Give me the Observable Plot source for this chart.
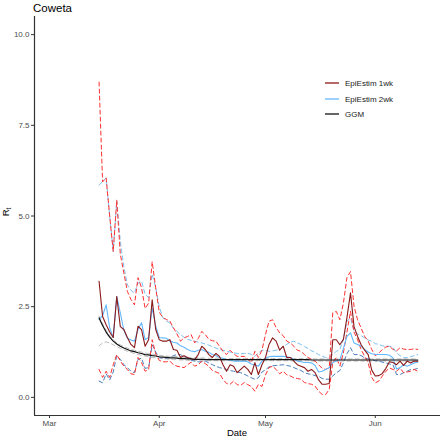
<!DOCTYPE html>
<html><head><meta charset="utf-8">
<script src="https://cdn.jsdelivr.net/npm/d3@7"></script>
<script src="https://cdn.jsdelivr.net/npm/@observablehq/plot@0.6"></script>
<style>
body{margin:0;background:#fff;}
#chart{position:relative;width:440px;height:438px;}
#chart svg g[aria-label$="tick label"]{fill:#4d4d4d;}
</style></head><body><div id="chart"></div>
<script>
const titleText = "Coweta";
const xLabel = "Date";
const startDate = "2020-03-15";
const xTickDates = ["2020-03-01","2020-04-01","2020-05-01","2020-06-01"];
const xTickLabels = ["Mar","Apr","May","Jun"];
const yTicks = [0, 2.5, 5, 7.5, 10];
const yTickLabels = ["0.0","2.5","5.0","7.5","10.0"];
const legendLabels = ["EpiEstim 1wk","EpiEstim 2wk","GGM"];

// EpiEstim 1-week window: mean, lower, upper
const r1Mean = [3.20,2.23,2.00,1.80,1.65,2.78,1.95,1.87,1.65,1.46,
  1.37,1.96,1.87,1.41,1.59,2.69,1.87,1.59,1.55,1.55,
  1.59,1.32,1.30,1.10,1.15,1.10,1.06,1.04,1.18,1.41,
  1.32,1.18,1.10,1.21,1.13,0.90,0.72,0.90,0.86,0.68,
  0.77,0.86,0.77,0.63,0.96,0.63,0.90,1.10,1.46,1.64,
  1.55,1.30,1.41,1.10,1.10,1.00,0.90,0.86,0.82,0.72,
  0.77,0.68,0.48,0.36,0.36,0.38,1.59,1.59,1.45,1.60,
  2.20,2.88,1.95,1.68,1.45,1.30,1.18,0.75,0.59,0.60,
  0.66,0.80,0.98,0.96,0.90,1.00,0.88,1.00,0.95,1.00,
  1.00];
const r1Low = [0.77,0.55,0.72,0.55,0.90,1.18,1.00,0.86,0.77,0.65,
  0.63,1.10,0.96,0.72,0.77,1.59,1.20,1.02,0.98,0.98,
  1.00,0.90,0.86,0.84,0.82,0.90,0.97,0.86,0.90,1.00,
  0.93,0.86,0.74,0.70,0.66,0.50,0.38,0.36,0.45,0.35,
  0.33,0.41,0.35,0.30,0.17,0.36,0.30,0.62,0.82,0.86,
  0.77,0.65,0.72,0.62,0.59,0.54,0.52,0.50,0.41,0.38,
  0.36,0.31,0.17,0.08,0.08,0.22,0.96,1.10,0.86,1.23,
  1.80,2.37,1.80,1.59,1.32,1.13,0.95,0.55,0.40,0.45,
  0.59,0.72,0.81,0.77,0.72,0.81,0.68,0.70,0.72,0.77,
  0.72];
const r1High = [8.69,5.94,6.05,5.00,4.02,5.44,3.95,3.43,2.92,2.70,
  2.55,3.30,3.02,2.45,2.60,3.74,3.02,2.35,2.20,2.15,
  2.10,1.92,1.75,1.55,1.64,1.68,1.73,1.50,1.62,1.82,
  1.73,1.60,1.56,1.55,1.41,1.27,1.18,1.30,1.20,1.13,
  1.13,1.13,1.05,0.96,1.27,1.10,1.30,1.73,2.10,2.14,
  1.92,1.78,1.70,1.55,1.50,1.41,1.30,1.27,1.18,1.10,
  1.05,1.00,0.90,0.80,0.77,0.82,2.33,2.37,2.14,2.60,
  3.30,3.47,2.51,2.14,1.91,1.68,1.55,1.32,1.15,1.22,
  1.32,1.39,1.41,1.32,1.28,1.37,1.33,1.32,1.32,1.34,
  1.32];

// EpiEstim 2-week window: mean, lower, upper
const r2Mean = [2.15,2.25,2.55,1.92,1.65,2.78,2.33,1.85,1.63,1.58,
  1.55,1.87,2.06,1.59,1.65,2.47,1.96,1.65,1.64,1.63,
  1.55,1.52,1.50,1.42,1.38,1.32,1.28,1.26,1.30,1.32,
  1.27,1.24,1.18,1.15,1.10,1.08,1.04,1.03,1.00,1.00,
  1.00,1.00,0.98,0.92,0.90,0.86,1.00,1.08,1.12,1.13,
  1.13,1.13,1.13,1.12,1.10,1.05,1.00,0.98,0.96,0.96,
  0.95,0.88,0.70,0.72,0.77,0.82,0.96,1.00,1.04,1.35,
  1.68,1.78,1.50,1.46,1.41,1.32,1.25,1.20,1.18,1.18,
  1.18,1.18,1.16,1.09,0.78,0.82,0.90,0.86,0.90,0.95,
  0.97];
const r2Low = [0.45,0.40,0.65,0.48,0.70,1.15,1.05,0.90,0.82,0.72,
  0.68,1.05,1.08,0.80,0.82,1.45,1.25,1.10,1.08,1.08,
  1.10,1.15,1.18,1.18,1.12,1.08,1.02,1.00,0.98,0.98,
  1.00,0.95,0.90,0.86,0.82,0.80,0.77,0.74,0.72,0.70,
  0.68,0.64,0.59,0.54,0.50,0.54,0.70,0.76,0.84,0.87,
  0.88,0.89,0.90,0.88,0.86,0.82,0.78,0.74,0.68,0.65,
  0.63,0.60,0.58,0.52,0.50,0.50,0.59,0.68,0.74,0.95,
  1.20,1.37,1.18,1.18,1.15,1.09,1.06,1.04,1.01,1.00,
  0.97,0.95,0.92,0.90,0.63,0.63,0.68,0.72,0.77,0.77,
  0.80];
const r2High = [5.85,5.95,6.05,5.00,4.02,5.40,4.30,3.60,3.10,2.95,
  2.88,3.15,3.20,2.85,2.75,3.40,3.02,2.50,2.20,2.10,
  2.05,1.90,1.82,1.73,1.66,1.60,1.57,1.55,1.52,1.50,
  1.47,1.44,1.40,1.36,1.32,1.30,1.27,1.25,1.23,1.21,
  1.20,1.21,1.22,1.18,1.13,1.23,1.30,1.30,1.27,1.28,
  1.30,1.32,1.40,1.46,1.52,1.55,1.50,1.46,1.40,1.35,
  1.28,1.24,1.18,1.13,1.10,1.10,1.18,1.27,1.32,1.60,
  2.10,2.19,1.82,1.75,1.70,1.64,1.58,1.55,1.48,1.46,
  1.42,1.41,1.41,1.38,1.23,1.15,1.09,1.10,1.12,1.15,
  1.18];

// GGM fit: mean, lower, upper
const gMean = [2.19,1.98,1.80,1.66,1.55,1.47,1.41,1.36,1.32,1.28,
  1.26,1.23,1.21,1.18,1.17,1.15,1.14,1.12,1.11,1.10,
  1.09,1.09,1.08,1.07,1.07,1.06,1.06,1.05,1.05,1.05,
  1.04,1.04,1.04,1.04,1.04,1.04,1.04,1.04,1.04,1.04,
  1.04,1.04,1.04,1.04,1.04,1.04,1.04,1.04,1.04,1.04,
  1.04,1.04,1.04,1.04,1.04,1.04,1.04,1.04,1.04,1.04,
  1.03,1.03,1.03,1.03,1.03,1.03,1.03,1.03,1.03,1.03,
  1.03,1.03,1.03,1.03,1.03,1.03,1.03,1.03,1.03,1.03,
  1.03,1.03,1.03,1.03,1.03,1.03,1.03,1.03,1.03,1.03,
  1.03];
const gLow = [1.42,1.50,1.53,1.50,1.45,1.40,1.35,1.31,1.27,1.24,
  1.21,1.18,1.16,1.14,1.12,1.10,1.09,1.08,1.07,1.06,
  1.05,1.04,1.04,1.03,1.03,1.02,1.02,1.02,1.02,1.01,
  1.01,1.01,1.01,1.01,1.01,1.01,1.01,1.01,1.01,1.01,
  1.01,1.01,1.01,1.01,1.01,1.01,1.01,1.01,1.01,1.01,
  1.01,1.01,1.01,1.01,1.01,1.01,1.01,1.01,1.01,1.01,
  1.00,1.00,1.00,1.00,1.00,1.00,1.00,1.00,1.00,1.00,
  1.00,1.00,1.00,1.00,1.00,1.00,1.00,1.00,1.00,1.00,
  1.00,1.00,1.00,1.00,1.00,1.00,1.00,1.00,1.00,1.00,
  1.00];
const gHigh = [2.24,2.03,1.85,1.70,1.59,1.51,1.45,1.40,1.36,1.32,
  1.30,1.27,1.25,1.22,1.21,1.19,1.18,1.16,1.15,1.14,
  1.13,1.13,1.12,1.11,1.11,1.10,1.10,1.09,1.09,1.09,
  1.08,1.08,1.08,1.08,1.08,1.07,1.07,1.07,1.07,1.07,
  1.07,1.07,1.07,1.07,1.07,1.07,1.07,1.07,1.07,1.07,
  1.07,1.07,1.07,1.07,1.07,1.07,1.07,1.07,1.07,1.07,
  1.06,1.06,1.06,1.06,1.06,1.06,1.06,1.06,1.06,1.06,
  1.06,1.06,1.06,1.06,1.06,1.06,1.06,1.06,1.06,1.06,
  1.06,1.06,1.06,1.06,1.06,1.06,1.06,1.06,1.06,1.06,
  1.06];

const day0 = new Date(startDate + "T00:00:00Z");
const dates = r1Mean.map((_, i) => new Date(day0.getTime() + i * 864e5));
const rows = (vals) => vals.map((v, i) => ({date: dates[i], value: v}));

const C = {r1: "#8B1A1A", r2: "#63B8FF", r1ci: "#FF3030", r2hi: "#7EC0EE", r2lo: "#4A7EBB", g: "#111111", gci: "#BDBDBD"};
const dash = "4,3";
const xTickVals = xTickDates.map(d => new Date(d + "T00:00:00Z"));
const xDomain = [new Date("2020-02-25T18:30:00Z"), new Date("2020-06-19T10:00:00Z")];

const lineOpts = (stroke, w, dashed) => ({x: "date", y: "value", stroke, strokeWidth: w, strokeDasharray: dashed ? dash : null, curve: "linear"});

const plot = Plot.plot({
  width: 440, height: 438,
  marginLeft: 34, marginRight: 0, marginTop: 16, marginBottom: 23,
  style: {fontFamily: "Liberation Sans, Arial, sans-serif", fontSize: "8px", background: "#fff", color: "#333"},
  x: {type: "utc", domain: xDomain, ticks: xTickVals, tickFormat: d => xTickLabels[xTickVals.findIndex(t => +t === +d)], tickSize: 3, tickPadding: 2, label: null},
  y: {domain: [-0.5, 10.5], ticks: yTicks, tickFormat: d => yTickLabels[yTicks.indexOf(d)], tickSize: 3, tickPadding: 2, label: null},
  marks: [
    Plot.line(rows(gLow), lineOpts(C.gci, 1, true)),
    Plot.line(rows(gHigh), lineOpts(C.gci, 1, true)),
    Plot.line(rows(r2High), lineOpts(C.r2hi, 1, true)),
    Plot.line(rows(r2Low), lineOpts(C.r2lo, 1, true)),
    Plot.line(rows(r1High), lineOpts(C.r1ci, 1, true)),
    Plot.line(rows(r1Low), lineOpts(C.r1ci, 1, true)),
    Plot.line(rows(r2Mean), lineOpts(C.r2, 1.1, false)),
    Plot.line(rows(r1Mean), lineOpts(C.r1, 1.1, false)),
    Plot.line(rows(gMean), lineOpts(C.g, 1.2, false)),
    Plot.ruleY([-0.5], {stroke: "#333", strokeWidth: 1.2}),
    Plot.ruleX([xDomain[0]], {stroke: "#333", strokeWidth: 1.2})
  ]
});
document.getElementById("chart").appendChild(plot);

const svg = d3.select(plot);
svg.append("text").attr("x", 33).attr("y", 12).attr("text-anchor", "start").attr("font-size", 11.5).attr("fill", "#000").text(titleText);
svg.append("text").attr("x", 237).attr("y", 435.5).attr("text-anchor", "middle").attr("font-size", 9.5).attr("fill", "#000").text(xLabel);
const yl = svg.append("text").attr("transform", "translate(8.5,212) rotate(-90)").attr("text-anchor", "middle").attr("font-size", 9.5).attr("fill", "#000");
yl.append("tspan").text("R");
yl.append("tspan").attr("font-size", 6.5).attr("dy", 2).text("t");

const legColors = [C.r1, C.r2, C.g];
const legY = [83, 99, 114];
const lg = svg.append("g").attr("text-anchor", "start");
legendLabels.forEach((lab, i) => {
  lg.append("line").attr("x1", 325).attr("x2", 339).attr("y1", legY[i]).attr("y2", legY[i]).attr("stroke", legColors[i]).attr("stroke-width", 1.3);
  lg.append("text").attr("x", 345).attr("y", legY[i]).attr("dy", "0.35em").attr("text-anchor", "start").attr("font-size", 8).attr("fill", "#1a1a1a").text(lab);
});
</script></body></html>
